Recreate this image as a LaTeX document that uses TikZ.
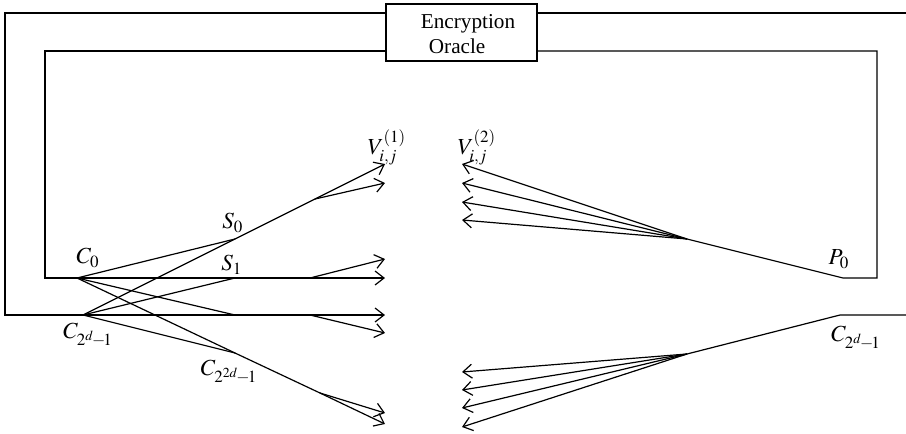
\documentclass[tikz,border=0pt]{standalone}
\usepackage{mathptmx}
\usepackage{fontspec}
\setmainfont{Liberation Serif}
\usetikzlibrary{arrows.meta}
\begin{document}
\begin{tikzpicture}[x=0.5pt,y=-0.5pt,
  line width=0.6pt,
  wire/.style={line join=miter},
  tip/.style={-{Straight Barb[length=4.5pt,width=7pt]}},
  lbl/.style={inner sep=0pt,font=\fontsize{11.5}{13}\selectfont},
  pt/.style={coordinate}]
\useasboundingbox (0,0) rectangle (906,434);

% oracle box
\node[draw,minimum width=75.5pt,minimum height=28.5pt,inner sep=0pt] (oracle) at (461.5,32.5) {};
\node[inner sep=0pt,align=left,font=\fontsize{10.6}{12.5}\selectfont] (oracletext) at (468,34) {Encryption\\\hspace*{4pt}Oracle};

% junction points
\coordinate (c0) at (77,278);
\coordinate (c1) at (83,315);
\coordinate (s0) at (235,239);
\coordinate (s1) at (235,278);
\coordinate (s2) at (235,315);
\coordinate (s3) at (235,353);
\coordinate (b0) at (315,199);
\coordinate (b1) at (310,278);
\coordinate (b2) at (310,315);
\coordinate (b3) at (320,393);
\coordinate (p0) at (843,278);
\coordinate (q0) at (840,315);
\coordinate (fa) at (687,239);
\coordinate (fb) at (687,354);

% arrow ends, left group
\coordinate (v0a) at (385,164);
\coordinate (v0b) at (385,183);
\coordinate (v1a) at (385,259);
\coordinate (v1b) at (385,278);
\coordinate (v2a) at (385,315);
\coordinate (v2b) at (385,333);
\coordinate (v3a) at (385,413);
\coordinate (v3b) at (385,424);

% arrow ends, right group
\coordinate (w0) at (462,164);
\coordinate (w1) at (462,183);
\coordinate (w2) at (462,202);
\coordinate (w3) at (462,220);
\coordinate (u0) at (462,372);
\coordinate (u1) at (462,390);
\coordinate (u2) at (462,408);
\coordinate (u3) at (462,427);

% outer loop
\draw[wire] (oracle.west |- 0,13) -- (5,13) -- (5,315) -- (c1);
\draw[wire] (oracle.east |- 0,13) -- (906,13);
\draw[wire] (906,315) -- (q0) -- (fb);

% inner loop
\draw[wire] (oracle.west |- 0,51) -- (45,51) -- (45,278) -- (c0);
\draw[wire] (oracle.east |- 0,51) -- (877,51) -- (877,278) -- (p0) -- (fa);

% crossing network
\draw (c0) -- (s0);
\draw (c0) -- (s1);
\draw (c0) -- (s2);
\draw (c0) -- (s3);
\draw (c1) -- (s0);
\draw (c1) -- (s1);
\draw (c1) -- (s2);
\draw (c1) -- (s3);

\draw (s0) -- (b0);
\draw (s1) -- (b1);
\draw (s2) -- (b2);
\draw (s3) -- (b3);

\draw[tip] (b0) -- (v0a);
\draw[tip] (b0) -- (v0b);
\draw[tip] (b1) -- (v1a);
\draw[tip] (b1) -- (v1b);
\draw[tip] (b2) -- (v2a);
\draw[tip] (b2) -- (v2b);
\draw[tip] (b3) -- (v3a);
\draw[tip] (b3) -- (v3b);

% fans towards the second table
\draw[tip] (fa) -- (w0);
\draw[tip] (fa) -- (w1);
\draw[tip] (fa) -- (w2);
\draw[tip] (fa) -- (w3);
\draw[tip] (fb) -- (u0);
\draw[tip] (fb) -- (u1);
\draw[tip] (fb) -- (u2);
\draw[tip] (fb) -- (u3);

% labels
\node[lbl] (lc0) at (88,258) {$C_0$};
\node[lbl] (ls0) at (233,223) {$S_0$};
\node[lbl] (ls1) at (232,265) {$S_1$};
\node[lbl] (lc1) at (88,335) {$C_{2^d\!-\!1}$};
\node[lbl] (lc3) at (229,372) {$C_{2^{2d}\!-\!1}$};
\node[lbl] (lp0) at (839,259) {$P_0$};
\node[lbl] (lq0) at (856,338) {$C_{2^d\!-\!1}$};
\node[lbl] (lv1) at (387,147) {$V_{i,j}^{(1)}$};
\node[lbl] (lv2) at (477,147) {$V_{i,j}^{(2)}$};
\end{tikzpicture}
\end{document}
